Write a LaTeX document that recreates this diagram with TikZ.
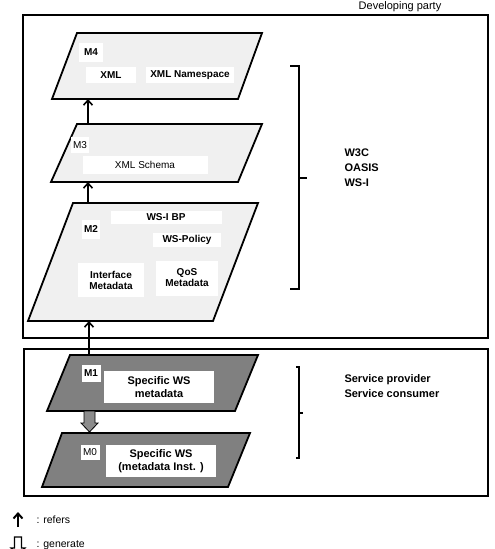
\documentclass[tikz,border=0pt]{standalone}
\usepackage{fontspec}
\setmainfont{Liberation Sans}
\usetikzlibrary{arrows.meta}
\tikzset{>={Straight Barb[length=5pt,width=9pt]},
  partybox/.style={draw,line width=1.8pt},
  mlayer/.style={draw,line width=1.8pt,fill=black!6},
  mdark/.style={draw,line width=1.8pt,fill=black!50},
  tagbox/.style={fill=white,inner sep=0pt,align=center,font=\fontsize{10}{11}\selectfont\bfseries},
  tagthin/.style={tagbox,font=\fontsize{10}{11}\selectfont},
  tagbig/.style={tagbox,font=\fontsize{11}{13}\selectfont\bfseries},
  refers/.style={->,line width=1.6pt},
  generate/.style={draw,line width=0.8pt,fill=black!45},
  sidebracket/.style={line width=1.5pt},
  sidetext/.style={anchor=west,align=left,font=\fontsize{11}{15}\selectfont\bfseries}}

\begin{document}
\begin{tikzpicture}[x=1pt,y=-1pt]
    \useasboundingbox (0,0) rectangle (495,549);
    % party frames
    \draw[partybox] (23,15) rectangle (488,338);
    \draw[partybox] (24,349) rectangle (488,496);
    \node[font=\fontsize{11}{13}\selectfont] (dev) at (400,7) {Developing party};

    % M4
    \draw[mlayer] (77,33) -- (262,33) -- (238,99) -- (52,99) -- cycle;
    \node[tagbox,minimum width=24pt,minimum height=19pt] (m4) at (91,52) {M4};
    \node[tagbox,minimum width=50pt,minimum height=16pt] (xml) at (111,75) {XML};
    \node[tagbox,minimum width=88pt,minimum height=16pt] (ns) at (190,75) {XML Namespace};
    % M3
    \draw[mlayer] (77,124) -- (262,124) -- (238,182) -- (51,182) -- cycle;
    \node[tagthin,minimum width=18pt,minimum height=16pt] (m3) at (80,145) {M3};
    \node[tagthin,minimum width=125pt,minimum height=18pt] (xsd) at (145,165) {XML Schema};
    % M2
    \draw[mlayer] (73,203) -- (258,203) -- (213,321) -- (28,321) -- cycle;
    \node[tagbox,minimum width=18pt,minimum height=19pt] (m2) at (91,229) {M2};
    \node[tagbox,minimum width=111pt,minimum height=13pt] (bp) at (166,217) {WS-I BP};
    \node[tagbox,minimum width=68pt,minimum height=14pt] (pol) at (187,240) {WS-Policy};
    \node[tagbox,minimum width=66pt,minimum height=34pt] (ifm) at (111,280) {Interface\\Metadata};
    \node[tagbox,minimum width=62pt,minimum height=35pt] (qos) at (187,278) {QoS\\Metadata};
    % M1
    \draw[mdark] (70,355) -- (258,355) -- (235,411) -- (47,411) -- cycle;
    \node[tagbox,minimum width=19pt,minimum height=17pt] (m1) at (91,373) {M1};
    \node[tagbig,minimum width=110pt,minimum height=32pt] (wsm) at (159,387) {Specific WS\\metadata};
    % M0
    \draw[mdark] (62,433) -- (250,433) -- (228,487) -- (42,487) -- cycle;
    \node[tagthin,minimum width=19pt,minimum height=15pt] (m0) at (90,452) {M0};
    \node[tagbig,minimum width=110pt,minimum height=32pt] (wsi) at (161,461) {Specific WS\\(metadata Inst. )};

    % refers arrows
    \coordinate (m4b) at (88,99);  \coordinate (m3t) at (88,124);
    \coordinate (m3b) at (88,182); \coordinate (m2t) at (88,203);
    \coordinate (m2b) at (89,321); \coordinate (m1t) at (89,355);
    \draw[refers] (m3t) -- (m4b);
    \draw[refers] (m2t) -- (m3b);
    \draw[refers] (m1t) -- (m2b);
    % generate arrow
    \draw[generate] (84,411) -- (95,411) -- (95,423) -- (98,423) -- (89.5,432)
        -- (81,423) -- (84,423) -- cycle;

    % brackets
    \draw[sidebracket] (290,66) -- (299,66) -- (299,289) -- (290,289);
    \draw[sidebracket] (299,178) -- (307,178);
    \node[sidetext] (org) at (341,168) {W3C\\OASIS\\WS-I};
    \draw[sidebracket] (296,367) -- (299,367) -- (299,458) -- (296,458);
    \draw[sidebracket] (299,413) -- (303,413);
    \node[sidetext] (sp) at (341,386) {Service provider\\Service consumer};

    % legend
    \coordinate (la) at (18,527); \coordinate (lb) at (18,512);
    \draw[refers,line width=2pt] (la) -- (lb);
    \node[anchor=west,font=\fontsize{10.5}{12}\selectfont] (lref) at (33,520) {: refers};
    \draw[line width=1.4pt,fill=white] (14.5,537) -- (21.5,537) -- (21.5,548) -- (25,548) -- (18,555)
        -- (11,548) -- (14.5,548) -- cycle;
    \node[anchor=west,font=\fontsize{10.5}{12}\selectfont] (lgen) at (33,545) {: generate};
\end{tikzpicture}
\end{document}
